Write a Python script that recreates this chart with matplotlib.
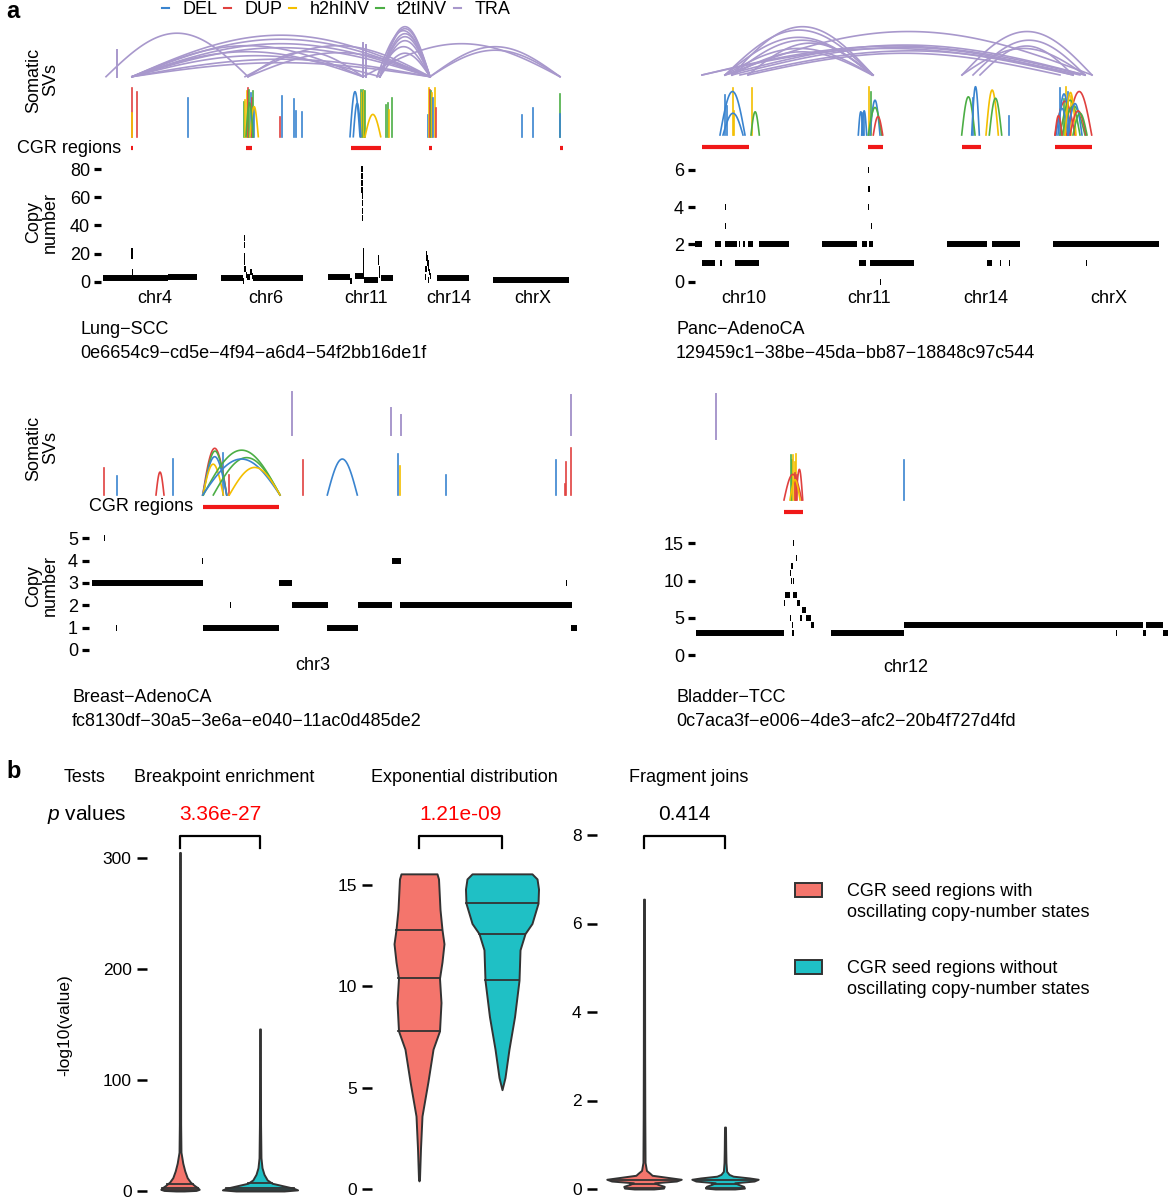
import numpy as np
import matplotlib
matplotlib.use('Agg')
import matplotlib.pyplot as plt
from matplotlib.lines import Line2D
from matplotlib.patches import Rectangle
import matplotlib.transforms as mtransforms

plt.rcParams['font.family'] = ['Liberation Sans', 'DejaVu Sans']
plt.rcParams['font.size'] = 13
plt.rcParams['mathtext.fontset'] = 'custom'
plt.rcParams['mathtext.it'] = 'Liberation Sans:italic'
plt.rcParams['mathtext.rm'] = 'Liberation Sans'

# ---------------- data: panel a ----------------
sv_types = ['DEL', 'DUP', 'h2hINV', 't2tINV', 'TRA']
sv_colors = ['#3a84cf', '#e0413f', '#f4bf00', '#4cae45', '#a898cc']

# top-left: Lung-SCC
tl_chroms = ['chr4', 'chr6', 'chr11', 'chr14', 'chrX']
tl_chrom_mid = [65, 176, 276, 359, 443]
tl_cn_ticks = [0, 20, 40, 60, 80]
tl_cn = [
    (13, 42, 2.5), (42, 78, 2.5), (78, 107, 3.2),
    (41.6, 42.2, 22), (41.6, 42.2, 18), (41.8, 42.4, 7),
    (131, 153, 2.6), (153, 153.8, 0.3), (154, 154.6, 31), (154, 154.6, 26),
    (154.3, 154.9, 18), (154.3, 154.9, 14), (154.5, 155.5, 9), (155.5, 157, 5),
    (157, 160, 3.5), (160, 162, 7), (162, 163, 4), (163, 213, 2.6),
    (238, 260, 3), (260, 262.5, 0.8), (265, 274, 4), (274, 288, 1.2), (291, 303, 2.5),
    (271.7, 272.2, 80), (271.7, 272.2, 75), (271.8, 272.3, 70), (271.8, 272.3, 65),
    (272, 272.5, 61), (272, 272.5, 56), (272.2, 272.7, 50), (272.2, 272.7, 45),
    (273, 273.5, 22), (273, 273.5, 18), (273.2, 273.7, 14), (273.4, 273.9, 10), (273.5, 274, 7),
    (288, 289.5, 17), (288, 289.5, 14), (289, 289.5, 9), (289, 289.5, 5),
    (335, 336, 3), (335.5, 336.5, 9), (336, 337.5, 20), (336.5, 337.5, 17), (337.5, 338.5, 13),
    (338, 339, 10), (339, 340, 7), (338, 339, 1), (340, 341, 4),
    (347, 379, 2.5),
    (403, 479, 1.0),
]
tl_sv_lines = [
    (41.7, 1.0, 'DUP'), (41.7, 0.48, 'h2hINV'), (46.7, 0.93, 'DUP'), (97.7, 0.79, 'DEL'),
    (154, 0.72, 't2tINV'), (155, 0.75, 'h2hINV'), (156.7, 0.95, 'h2hINV'), (158.3, 1.0, 'DUP'),
    (159.3, 0.97, 't2tINV'), (160.7, 0.9, 'DEL'), (161.7, 0.8, 'DUP'), (162.7, 0.95, 't2tINV'),
    (164, 0.6, 'DEL'), (190, 0.41, 'DUP'), (191.7, 0.84, 'DEL'), (204.3, 0.77, 'DEL'),
    (206, 0.54, 'DEL'), (212, 0.51, 'DEL'),
    (270.7, 0.97, 't2tINV'), (272, 0.9, 'h2hINV'), (273.3, 0.97, 't2tINV'), (274.5, 0.95, 'h2hINV'),
    (275.5, 0.95, 't2tINV'), (296, 0.66, 't2tINV'), (297.7, 0.69, 't2tINV'), (299.3, 0.55, 'h2hINV'),
    (301.7, 0.79, 't2tINV'),
    (338.3, 0.45, 'DEL'), (339, 1.0, 'h2hINV'), (340, 0.97, 'DUP'), (341, 0.95, 't2tINV'),
    (342, 0.9, 'h2hINV'), (343.3, 0.8, 'DEL'), (344.7, 1.0, 'h2hINV'), (345.7, 0.6, 'DUP'),
    (431.7, 0.45, 'DEL'), (442.7, 0.59, 'DEL'), (470, 0.88, 't2tINV'), (470.3, 0.46, 'DEL'),
]
tl_sv_arcs = [
    (260, 270, 0.93, 'DEL'), (263.3, 271, 0.69, 'DEL'), (275, 290.7, 0.46, 'h2hINV'),
    (160, 168.3, 0.62, 'h2hINV'), (156, 163, 0.7, 't2tINV'),
]
tl_tra_arcs = [
    (16, 158, 0.87), (42, 340, 0.83), (42, 340, 0.75), (42, 340, 0.66), (42, 340, 0.58),
    (42, 273, 0.62), (42, 273, 0.5), (42, 290, 0.42), (42, 340, 0.35), (42, 340, 0.28),
    (155, 340, 0.62), (158, 340, 0.48), (158, 273, 0.5),
    (290, 340, 1.0), (290, 340, 0.96), (287, 340, 0.92), (290, 340, 0.86), (290, 340, 0.8),
    (290, 340, 0.72), (287, 340, 0.6), (290, 340, 0.47),
    (340, 470, 0.6), (340, 470, 0.53), (273, 470, 0.66),
]
tl_tra_lines = [(27, 0.53), (273, 0.67), (276, 0.63)]
tl_cgr = [(41, 43), (156, 162), (261, 291), (339, 342), (470, 473)]

# top-right: Panc-AdenoCA
tr_chroms = ['chr10', 'chr11', 'chr14', 'chrX']
tr_chrom_mid = [54, 179, 296, 419]
tr_cn_ticks = [0, 2, 4, 6]
tr_cn = [
    (5, 12, 2), (25, 31, 2), (35, 47, 2), (48.7, 50, 2), (53.3, 55, 2), (58, 63, 2), (69, 99, 2),
    (132, 167, 2), (172, 177, 2), (179, 183, 2), (257, 297, 2), (302, 330, 2), (363, 469, 2),
    (12, 25, 1), (30, 32, 1), (45, 69, 1), (169, 176, 1), (180, 224, 1), (297, 302, 1),
    (310, 311, 1), (319, 320, 1), (396, 397, 1),
    (190.5, 191.2, 0), (34.8, 35.4, 3), (180.8, 181.6, 3), (34.8, 35.4, 4), (178.2, 178.7, 4),
    (178.5, 179.5, 5), (178.2, 178.7, 6),
]
tr_sv_lines = [
    (35, 0.83, 'DEL'), (36.7, 0.6, 'DEL'), (42.7, 0.97, 'h2hINV'), (44.3, 0.5, 'h2hINV'),
    (62.3, 0.97, 'h2hINV'), (172, 0.45, 'DEL'), (174, 0.48, 'DEL'), (179.3, 1.0, 'h2hINV'),
    (181, 0.9, 't2tINV'), (283.3, 0.76, 'DEL'), (319.3, 0.39, 'DEL'),
    (370, 0.97, 'DEL'), (376, 1.0, 'h2hINV'), (378, 0.9, 'DEL'), (381, 0.8, 'h2hINV'), (374, 0.75, 't2tINV'),
]
tr_sv_arcs = [
    (30, 55, 0.9, 'DEL'), (33, 53, 0.45, 'DEL'), (61, 69.3, 0.48, 't2tINV'),
    (168.3, 173.3, 0.48, 'DEL'), (171.7, 176.7, 0.5, 'DEL'), (180, 190, 0.72, 'DEL'),
    (178.3, 191.7, 0.57, 't2tINV'), (183.3, 192.7, 0.38, 'DUP'),
    (271.7, 285, 0.79, 't2tINV'), (281.7, 289.3, 1.0, 'DEL'), (296, 308.3, 0.93, 'h2hINV'),
    (299.3, 311.7, 0.76, 't2tINV'),
    (376.7, 401.7, 0.9, 'DUP'), (365, 385, 0.7, 'DUP'), (368, 380, 0.85, 'DEL'),
    (370, 390, 0.72, 't2tINV'), (372, 395, 0.6, 't2tINV'), (366, 378, 0.55, 'DEL'),
    (375, 386, 0.88, 'h2hINV'), (378, 392, 0.65, 'DEL'), (365, 372, 0.4, 'DUP'),
    (380, 396, 0.5, 'DUP'), (383, 397, 0.45, 't2tINV'),
]
tr_tra_arcs = [
    (42, 183, 1.0), (35, 183, 0.93), (35, 182, 0.78), (42, 183, 0.72), (58, 183, 0.66),
    (35, 183, 0.55), (42, 182, 0.48), (35, 402, 0.9), (12, 395, 0.6), (12, 383, 0.55),
    (35, 395, 0.62), (42, 383, 0.57), (50, 390, 0.5), (58, 370, 0.45),
    (272, 402, 0.9), (283, 395, 0.72), (290, 383, 0.6), (272, 395, 0.55),
]
tr_tra_lines = []
tr_cgr = [(12, 59), (178, 193), (272, 291), (365, 402)]

# bottom-left: Breast-AdenoCA
bl_chroms = ['chr3']
bl_chrom_mid = [233]
bl_cn_ticks = [0, 1, 2, 3, 4, 5]
bl_cn = [
    (12, 122.7, 3), (199.3, 212.3, 3), (485.8, 486.4, 3),
    (149.8, 150.4, 2), (211.7, 247.7, 2), (277.7, 311.7, 2), (320, 491.7, 2),
    (36.5, 37.1, 1), (122.7, 199.3, 1), (247.3, 278.3, 1), (490.7, 496.7, 1),
    (122.6, 123.1, 4), (311.7, 320.7, 4), (23.8, 24.4, 5),
]
bl_sv_lines = [
    (24, 0.57, 'DUP'), (36.7, 0.41, 'DEL'), (92.7, 0.77, 'DEL'), (142.7, 0.89, 'DEL'),
    (149.3, 0.43, 'DUP'), (222.7, 0.74, 'DUP'), (318.3, 0.88, 'DEL'), (320, 0.63, 'h2hINV'),
    (366, 0.43, 'DEL'), (475.7, 0.75, 'DEL'), (485, 0.23, 'DUP'), (486, 0.7, 'DUP'), (490.7, 1.0, 'DUP'),
]
bl_sv_arcs = [
    (76, 84, 0.49, 'DUP'), (122.7, 146.7, 1.0, 'DUP'), (123.3, 146.7, 0.94, 't2tINV'),
    (122.7, 146.7, 0.82, 'DEL'), (123, 143.3, 0.66, 'h2hINV'), (123.3, 200, 0.96, 't2tINV'),
    (133.3, 200, 0.8, 't2tINV'), (122.7, 200, 0.77, 'DEL'), (149.3, 200, 0.59, 'h2hINV'),
    (247.3, 277.3, 0.77, 'DEL'),
]
bl_tra_arcs = []
bl_tra_lines = [(211.7, 1.0), (311, 0.62), (320.7, 0.46), (490.7, 0.92)]
bl_cgr = [(122.7, 199.3)]

# bottom-right: Bladder-TCC
br_chroms = ['chr12']
br_chrom_mid = [216]
br_cn_ticks = [0, 5, 10, 15]
br_cn = [
    (6, 94, 2.9), (140.7, 214.3, 2.9), (214.3, 453.3, 4), (455.7, 472.7, 4),
    (425.8, 426.4, 3), (453.3, 455.7, 3), (472.7, 477.7, 3),
    (95, 100, 8), (103.3, 106.7, 8), (94, 94.5, 7), (107.3, 110, 7), (112.3, 115.7, 6),
    (100.5, 101, 5), (110, 112.3, 5), (115.7, 120.7, 5), (102.5, 103, 4), (120.7, 124, 4),
    (101, 101.5, 10), (103, 103.5, 10), (100.5, 101, 11), (101, 103.3, 12), (106, 107, 13),
    (103, 103.5, 15), (102.7, 103.2, 3),
]
br_sv_lines = [
    (100.7, 1.0, 't2tINV'), (101.5, 0.9, 't2tINV'), (103.3, 1.0, 'h2hINV'), (104.5, 0.85, 'h2hINV'),
    (106, 1.02, 'h2hINV'), (105, 0.6, 'DUP'), (107, 0.55, 'DUP'), (214.3, 0.89, 'DEL'),
]
br_sv_arcs = [(94, 111.7, 0.57, 'DUP'), (106, 112.7, 0.68, 'DUP'), (100, 110, 0.45, 'h2hINV')]
br_tra_arcs = []
br_tra_lines = [(26, 1.0)]
br_cgr = [(94, 112.7)]

samples = [('Lung−SCC', '0e6654c9−cd5e−4f94−a6d4−54f2bb16de1f'),
           ('Panc−AdenoCA', '129459c1−38be−45da−bb87−18848c97c544'),
           ('Breast−AdenoCA', 'fc8130df−30a5−3e6a−e040−11ac0d485de2'),
           ('Bladder−TCC', '0c7aca3f−e006−4de3−afc2−20b4f727d4fd')]

# ---------------- data: panel b ----------------
tests = ['Breakpoint enrichment', 'Exponential distribution', 'Fragment joins']
pvals = ['3.36e-27', '1.21e-09', '0.414']
pval_colors = ['#ff0000', '#ff0000', '#000000']
groups = ['CGR seed regions with\noscillating copy-number states',
          'CGR seed regions without\noscillating copy-number states']
group_colors = ['#f4756c', '#1fc0c5']

# violin outlines: value, half width
v1_red_vals = [305, 250, 60, 35, 25, 18, 12, 8, 5, 3, 1.5, 0.5, 0]
v1_red_hw = [0.005, 0.006, 0.008, 0.012, 0.035, 0.06, 0.09, 0.13, 0.18, 0.22, 0.24, 0.2, 0.05]
v1_red_q = [1.0, 2.7, 6.3]
v1_teal_vals = [146, 60, 30, 21, 15, 10, 7, 4.5, 2.5, 1, 0]
v1_teal_hw = [0.005, 0.007, 0.012, 0.025, 0.05, 0.09, 0.15, 0.3, 0.42, 0.47, 0.3]
v1_teal_q = [0.8, 2.5, 7.0]

v2_red_vals = [15.55, 15.3, 14.8, 13.8, 12.8, 12.1, 11.2, 10.4, 9.2, 7.8, 6.9, 5.3, 3.6, 2.0, 0.5, 0.4]
v2_red_hw = [0.217, 0.235, 0.241, 0.253, 0.277, 0.301, 0.277, 0.247, 0.265, 0.247, 0.169, 0.108,
             0.036, 0.018, 0.006, 0.0]
v2_red_q = [7.8, 10.4, 12.8]
v2_teal_vals = [15.55, 15.3, 14.8, 14.1, 13.1, 12.6, 11.8, 10.3, 8.5, 6.9, 5.5, 4.9]
v2_teal_hw = [0.361, 0.422, 0.44, 0.434, 0.361, 0.277, 0.217, 0.205, 0.151, 0.084, 0.036, 0.0]
v2_teal_q = [10.3, 12.6, 14.1]

v3_red_vals = [6.55, 3, 1.6, 0.6, 0.42, 0.36, 0.31, 0.26, 0.22, 0.18, 0.14, 0.1, 0.06, 0.02, 0.0]
v3_red_hw = [0.006, 0.008, 0.01, 0.013, 0.03, 0.07, 0.1, 0.3, 0.46, 0.4, 0.13, 0.18, 0.25, 0.24, 0.12]
v3_red_q = [0.02, 0.11, 0.2]
v3_teal_vals = [1.4, 0.9, 0.6, 0.4, 0.33, 0.29, 0.25, 0.22, 0.18, 0.14, 0.1, 0.06, 0.02, 0.0]
v3_teal_hw = [0.006, 0.009, 0.012, 0.02, 0.05, 0.1, 0.3, 0.41, 0.36, 0.12, 0.17, 0.23, 0.24, 0.12]
v3_teal_q = [0.02, 0.11, 0.2]

# ---------------- helpers ----------------
W, H = 1171, 1200
fig = plt.figure(figsize=(W / 100, H / 100), dpi=100)
col = dict(zip(sv_types, sv_colors))


def px_axes(x0, y0, x1, y1):
    return fig.add_axes([x0 / W, 1 - y1 / H, (x1 - x0) / W, (y1 - y0) / H])


def lim_from(p0, p1, ref_a, ref_b):
    (va, pa), (vb, pb) = ref_a, ref_b
    s = (vb - va) / (pb - pa)
    return va + (p0 - pa) * s, va + (p1 - pa) * s


def arc(ax, x1, x2, h, color, lw):
    t = np.linspace(0, 1, 80)
    ax.plot(x1 + (x2 - x1) * t, h * np.sin(np.pi * t), color=color, lw=lw, clip_on=False)


def bare(ax, xlim):
    ax.set_xlim(*xlim)
    ax.set_ylim(0, 1)
    ax.axis('off')


def draw_a(L, cn, sv_lines, sv_arcs, tra_arcs, tra_lines, cgr, chroms, mids, ticks, left, sample):
    x0, x1, xoff = L['x']
    xlim = (x0 - xoff, x1 - xoff)
    # translocations
    ax = px_axes(x0, L['tra'][0], x1, L['tra'][1])
    bare(ax, xlim)
    for a, b, h in tra_arcs:
        arc(ax, a, b, h, col['TRA'], 1.2)
    for x, h in tra_lines:
        ax.plot([x, x], [0, h], color=col['TRA'], lw=1.4, clip_on=False)
    # intra-chromosomal SVs
    ax = px_axes(x0, L['sv'][0], x1, L['sv'][1])
    bare(ax, xlim)
    for x, h, t in sv_lines:
        ax.plot([x, x], [0, h], color=col[t], lw=1.2, clip_on=False)
    for a, b, h, t in sv_arcs:
        arc(ax, a, b, h, col[t], 1.2)
    # CGR regions
    ax = px_axes(x0, L['cgr'] - 4, x1, L['cgr'] + 4)
    bare(ax, xlim)
    for a, b in cgr:
        ax.plot([a, b], [0.5, 0.5], color='#f01818', lw=3, solid_capstyle='butt')
    if left:
        ax.annotate('CGR regions', xy=(cgr[0][0], 0.5), xytext=(-7, 0), textcoords='offset points',
                    ha='right', va='center', fontsize=13)
    # copy number
    ax = px_axes(x0, L['cn'][0], x1, L['cn'][1])
    ax.set_xlim(*xlim)
    ax.set_ylim(*lim_from(L['cn'][1], L['cn'][0], L['cnref'][0], L['cnref'][1]))
    for a, b, c in cn:
        if b - a < 1.3:  # keep very short segments visible as small dashes
            m = (a + b) / 2
            a, b = m - 0.6, m + 0.6
        ax.plot([a, b], [c, c], color='black', lw=4.3, solid_capstyle='butt')
    ax.set_yticks(ticks)
    ax.set_xticks(mids)
    ax.set_xticklabels(chroms)
    ax.tick_params(axis='y', length=5, width=2.3, pad=3, labelsize=13)
    ax.tick_params(axis='x', length=0, pad=L['pad'], labelsize=13)
    for s in ax.spines.values():
        s.set_visible(False)
    if left:
        fig.text(42 / W, 1 - L['lab'][0] / H, 'Somatic\nSVs', rotation=90, ha='center', va='center',
                 fontsize=13, linespacing=1.0)
        fig.text(42 / W, 1 - L['lab'][1] / H, 'Copy\nnumber', rotation=90, ha='center', va='center',
                 fontsize=13, linespacing=1.0)
    tx, ty = L['txt']
    fig.text(tx / W, 1 - ty / H, sample[0], ha='left', va='center', fontsize=13)
    fig.text(tx / W, 1 - (ty + 24) / H, sample[1], ha='left', va='center', fontsize=13)


layouts = [
    dict(x=(101, 575, 90), tra=(26.7, 76.7), sv=(88.3, 136.7), cgr=148.3, cn=(158, 287),
         cnref=((0, 281.7), (80, 169)), lab=(80, 222), txt=(80, 329), pad=2.2),
    dict(x=(695, 1170, 690), tra=(26.7, 75), sv=(86.7, 135), cgr=146.7, cn=(158, 287),
         cnref=((0, 281.7), (6, 170)), lab=(80, 222), txt=(676, 329), pad=2.2),
    dict(x=(89, 585, 80), tra=(391.7, 435), sv=(448.3, 495), cgr=506.7, cn=(528, 656),
         cnref=((0, 650), (5, 538.3)), lab=(448, 586), txt=(72, 697), pad=0.5),
    dict(x=(695, 1170, 690), tra=(394.3, 439), sv=(455, 500), cgr=511.7, cn=(533, 657),
         cnref=((0, 655), (15, 543.3)), lab=(448, 586), txt=(676, 697), pad=1.2),
]
draw_a(layouts[0], tl_cn, tl_sv_lines, tl_sv_arcs, tl_tra_arcs, tl_tra_lines, tl_cgr,
       tl_chroms, tl_chrom_mid, tl_cn_ticks, True, samples[0])
draw_a(layouts[1], tr_cn, tr_sv_lines, tr_sv_arcs, tr_tra_arcs, tr_tra_lines, tr_cgr,
       tr_chroms, tr_chrom_mid, tr_cn_ticks, False, samples[1])
draw_a(layouts[2], bl_cn, bl_sv_lines, bl_sv_arcs, bl_tra_arcs, bl_tra_lines, bl_cgr,
       bl_chroms, bl_chrom_mid, bl_cn_ticks, True, samples[2])
draw_a(layouts[3], br_cn, br_sv_lines, br_sv_arcs, br_tra_arcs, br_tra_lines, br_cgr,
       br_chroms, br_chrom_mid, br_cn_ticks, False, samples[3])

handles = [Line2D([0], [0], color=c, lw=1.5) for c in sv_colors]
fig.legend(handles, sv_types, ncol=5, loc='upper left', bbox_to_anchor=(162 / W, 1 - 1 / H),
           frameon=False, fontsize=13, handlelength=0.4, handletextpad=0.75, columnspacing=0.35,
           borderpad=0, borderaxespad=0)
fig.text(6 / W, 1 - 11 / H, 'a', fontsize=17, fontweight='bold', ha='left', va='center')

# ---------------- panel b ----------------
fig.text(6 / W, 1 - 772 / H, 'b', fontsize=17, fontweight='bold', ha='left', va='center')
fig.text(85 / W, 1 - 778 / H, 'Tests', fontsize=13, ha='center', va='center')
fig.text(87 / W, 1 - 815 / H, r'$\it{p}$ values', fontsize=15, ha='center', va='center')
fig.text(65 / W, 1 - 1025 / H, '-log10(value)', fontsize=12.5, rotation=90, ha='center', va='center')

vlayouts = [
    dict(x=(147, 300), xref=((1, 180), (2, 260)), yref=((0, 1191), (300, 858)), ticks=[0, 100, 200, 300]),
    dict(x=(372, 545), xref=((1, 419), (2, 502)), yref=((0, 1189), (15, 885)), ticks=[0, 5, 10, 15]),
    dict(x=(597, 770), xref=((1, 644), (2, 725)), yref=((0, 1189), (8, 835)), ticks=[0, 2, 4, 6, 8]),
]
violins = [
    [(v1_red_vals, v1_red_hw, v1_red_q), (v1_teal_vals, v1_teal_hw, v1_teal_q)],
    [(v2_red_vals, v2_red_hw, v2_red_q), (v2_teal_vals, v2_teal_hw, v2_teal_q)],
    [(v3_red_vals, v3_red_hw, v3_red_q), (v3_teal_vals, v3_teal_hw, v3_teal_q)],
]
edge = '#333333'
for i, L in enumerate(vlayouts):
    ax = px_axes(L['x'][0], 800, L['x'][1], 1198)
    ax.set_xlim(*lim_from(L['x'][0], L['x'][1], L['xref'][0], L['xref'][1]))
    ax.set_ylim(*lim_from(1198, 800, L['yref'][0], L['yref'][1]))
    for pos, (vals, hw, qs), c in zip([1, 2], violins[i], group_colors):
        vals = np.asarray(vals, float)
        hw = np.asarray(hw, float)
        ax.fill_betweenx(vals, pos - hw, pos + hw, facecolor=c, edgecolor=edge, lw=1.4, zorder=2)
        order = np.argsort(vals)
        for q in qs:
            w = np.interp(q, vals[order], hw[order])
            ax.plot([pos - w, pos + w], [q, q], color=edge, lw=1.3, zorder=3)
    ax.set_yticks(L['ticks'])
    ax.set_xticks([])
    ax.tick_params(axis='y', length=7, width=1.8, pad=4, labelsize=12.5)
    for s in ax.spines.values():
        s.set_visible(False)
    tr = mtransforms.blended_transform_factory(ax.transData, fig.transFigure)
    ax.plot([1, 1, 2, 2], [1 - 848 / H, 1 - 836 / H, 1 - 836 / H, 1 - 848 / H], color='black',
            lw=1.6, transform=tr, clip_on=False)
    ax.text(1.5, 1 - 815 / H, pvals[i], color=pval_colors[i], fontsize=15, ha='center', va='center',
            transform=tr)
    ax.text(1.55, 1 - 778 / H, tests[i], fontsize=13, ha='center', va='center', transform=tr)

# legend for panel b
for (yb, c, lab) in zip([883, 960], group_colors, groups):
    fig.add_artist(Rectangle((795 / W, 1 - (yb + 14) / H), 27 / W, 14 / H, transform=fig.transFigure,
                             facecolor=c, edgecolor=edge, lw=1.4))
    fig.text(847 / W, 1 - (yb + 19) / H, lab, fontsize=13, ha='left', va='center', linespacing=1.25)

fig.savefig('out.png', dpi=100)
